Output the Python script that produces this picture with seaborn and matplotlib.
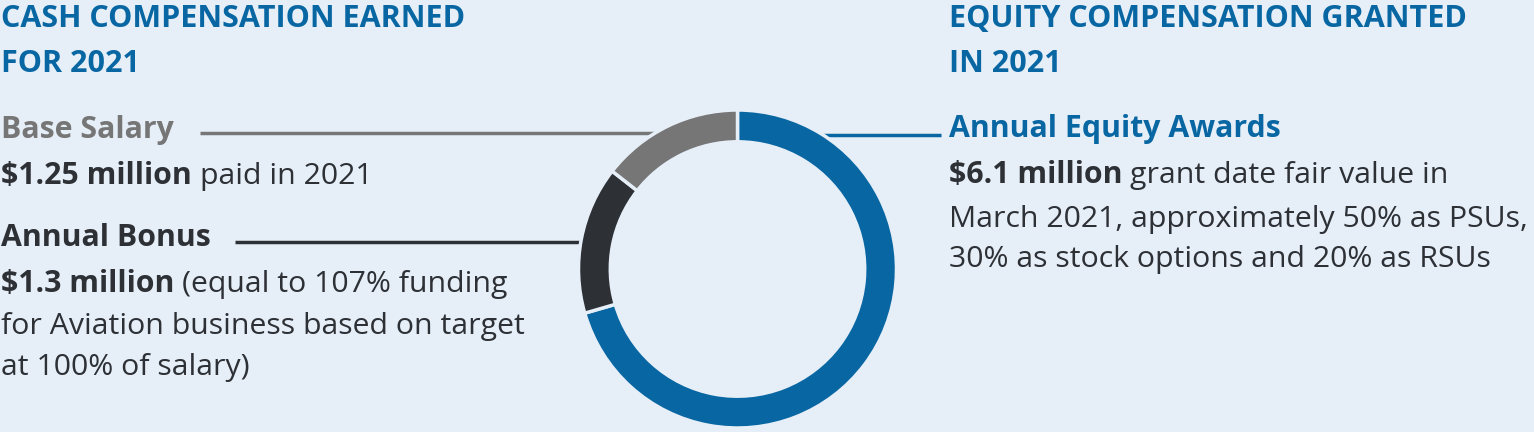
import matplotlib
matplotlib.use("Agg")
import matplotlib.pyplot as plt
import seaborn as sns

# ---- data ----
categories = ["Annual Equity Awards", "Annual Bonus", "Base Salary"]
values_musd = [6.1, 1.3, 1.25]
slice_colors = ["#0866A2", "#2D3035", "#767676"]

BG = "#E6EFF8"
BLUE = "#0866A2"
DARK = "#2D3035"
GRAY = "#767676"

sns.set_theme(style="white", rc={"figure.facecolor": BG, "axes.facecolor": BG})
FONT = "Open Sans"
plt.rcParams["font.family"] = [FONT, "DejaVu Sans"]

W, H = 1534, 432
fig = plt.figure(figsize=(W / 100, H / 100), dpi=100)
ax = fig.add_axes([0, 0, 1, 1])
ax.set_facecolor(BG)

cx, cy, R = 737.5, H - 269, 159
ax.pie(values_musd, colors=slice_colors, startangle=90, counterclock=False,
       radius=R, center=(cx, cy),
       wedgeprops=dict(width=R * 0.2, edgecolor=BG, linewidth=2.5))
ax.set_xlim(0, W)
ax.set_ylim(0, H)
ax.set_aspect("auto")
ax.axis("off")

FS = 21.8
FS_T = 22
renderer = fig.canvas.get_renderer()


def y(px):
    return H - px


def txt(x, ypx, s, color=DARK, weight="normal", fs=FS):
    return ax.text(x, y(ypx), s, color=color, fontsize=fs, fontweight=weight,
                   va="baseline", ha="left")


def mixed(x, ypx, bold, rest, color=DARK):
    t = txt(x, ypx, bold, color=color, weight="bold")
    bb = t.get_window_extent(renderer=renderer)
    txt(x + bb.width + 8, ypx, rest, color=color)


# left column
txt(1, 27, "CASH COMPENSATION EARNED", color=BLUE, weight="bold", fs=FS_T)
txt(1, 72, "FOR 2021", color=BLUE, weight="bold", fs=FS_T)
txt(1, 138, "Base Salary", color=GRAY, weight="bold")
mixed(1, 184, "$1.25 million", "paid in 2021")
txt(1, 246, "Annual Bonus", color=DARK, weight="bold")
mixed(1, 292, "$1.3 million", "(equal to 107% funding")
txt(1, 334, "for Aviation business based on target")
txt(1, 375, "at 100% of salary)")

# right column
txt(949, 27, "EQUITY COMPENSATION GRANTED", color=BLUE, weight="bold", fs=FS_T)
txt(949, 72, "IN 2021", color=BLUE, weight="bold", fs=FS_T)
txt(949, 137, "Annual Equity Awards", color=BLUE, weight="bold")
mixed(949, 183, "$6.1 million", "grant date fair value in")
txt(949, 227, "March 2021, approximately 50% as PSUs,")
txt(949, 267, "30% as stock options and 20% as RSUs")

# leader lines
ax.plot([200, 656], [y(133), y(133)], color=GRAY, lw=2.5, solid_capstyle="butt", zorder=0)
ax.plot([235, 580], [y(242), y(242)], color=DARK, lw=2.5, solid_capstyle="butt", zorder=0)
ax.plot([820, 941], [y(135), y(135)], color=BLUE, lw=2.5, solid_capstyle="butt", zorder=0)

fig.savefig("out.png", dpi=100, facecolor=BG)
